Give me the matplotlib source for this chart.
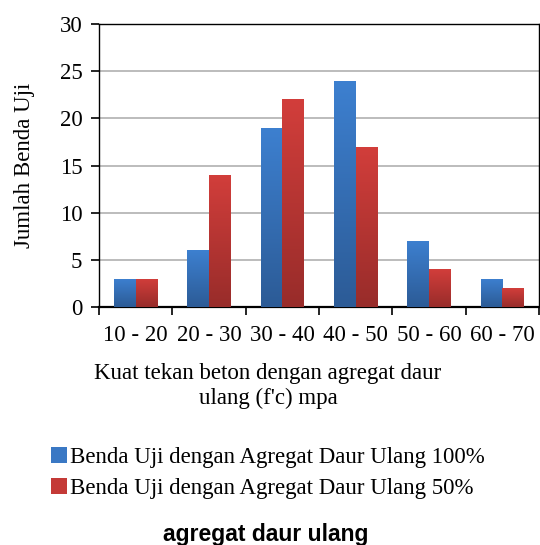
import matplotlib.pyplot as plt
import numpy as np
from matplotlib.colors import LinearSegmentedColormap

# data
categories = ["10 - 20", "20 - 30", "30 - 40", "40 - 50", "50 - 60", "60 - 70"]
uji_100 = [3, 6, 19, 24, 7, 3]
uji_50 = [3, 14, 22, 17, 4, 2]
labels = ["Benda Uji dengan Agregat Daur Ulang 100%",
          "Benda Uji dengan Agregat Daur Ulang 50%"]

serif = "Liberation Serif"
fs = 16.5

fig = plt.figure(figsize=(5.4, 5.45), dpi=100)
ax = fig.add_axes([99/540, 1 - 307/545, 440/540, 283/545])

x = np.arange(len(categories))
w = 0.295
b1 = ax.bar(x - w/2, uji_100, w, color="#3a78c4", label=labels[0], zorder=3)
b2 = ax.bar(x + w/2, uji_50, w, color="#c43a37", label=labels[1], zorder=3)

# vertical gradient fill like the original
grad = np.linspace(0, 1, 256).reshape(-1, 1)
cm_blue = LinearSegmentedColormap.from_list("b", ["#2c5b96", "#3d80d0"])
cm_red = LinearSegmentedColormap.from_list("r", ["#982c2a", "#d23e3b"])
for bars, cm in ((b1, cm_blue), (b2, cm_red)):
    for bar in bars:
        bx, by = bar.get_x(), bar.get_y()
        bw, bh = bar.get_width(), bar.get_height()
        im = ax.imshow(grad, cmap=cm, origin="lower", aspect="auto",
                       extent=[bx, bx + bw, by, by + bh], zorder=3.5)
        im.set_clip_path(bar)

ax.set_xlim(-0.5, len(categories) - 0.5)
ax.set_ylim(0, 30)
ax.set_yticks(range(0, 31, 5))
ax.set_xticks(x)
ax.set_xticklabels(categories, fontfamily=serif, fontsize=fs)
ax.set_xticks(np.arange(-0.5, len(categories)), minor=True)
ax.tick_params(axis="x", which="major", length=0, pad=13)
ax.tick_params(axis="x", which="minor", length=6, width=1.2, direction="out")
ax.tick_params(axis="y", length=6, width=1.2, direction="out", pad=6)
for t in ax.get_yticklabels():
    t.set_fontfamily(serif)
    t.set_fontsize(fs)

ax.grid(axis="y", color="#b0b0b0", linewidth=1.2, zorder=0)
for s in ax.spines.values():
    s.set_linewidth(1.0)
    s.set_color("black")
ax.spines["bottom"].set_linewidth(1.6)

ax.set_ylabel("Jumlah Benda Uji", fontfamily=serif, fontsize=fs, labelpad=18)
fig.text(268/540, 1 - 386/545, "Kuat tekan beton dengan agregat daur\nulang (f'c) mpa",
         ha="center", va="center", fontfamily=serif, fontsize=fs, linespacing=1.25)

handles = [b1, b2]
fig.legend(handles, labels, loc="center", bbox_to_anchor=(268/540, 1 - 473/545),
           frameon=False, prop={"family": serif, "size": fs},
           handlelength=0.7, handleheight=0.7, handletextpad=0.15, labelspacing=0.42)

fig.text(266/540, 1 - 534/545, "agregat daur ulang", ha="center", va="center",
         fontfamily="Liberation Sans", fontweight="bold", fontsize=16.5)

fig.savefig("out.png", dpi=100)
